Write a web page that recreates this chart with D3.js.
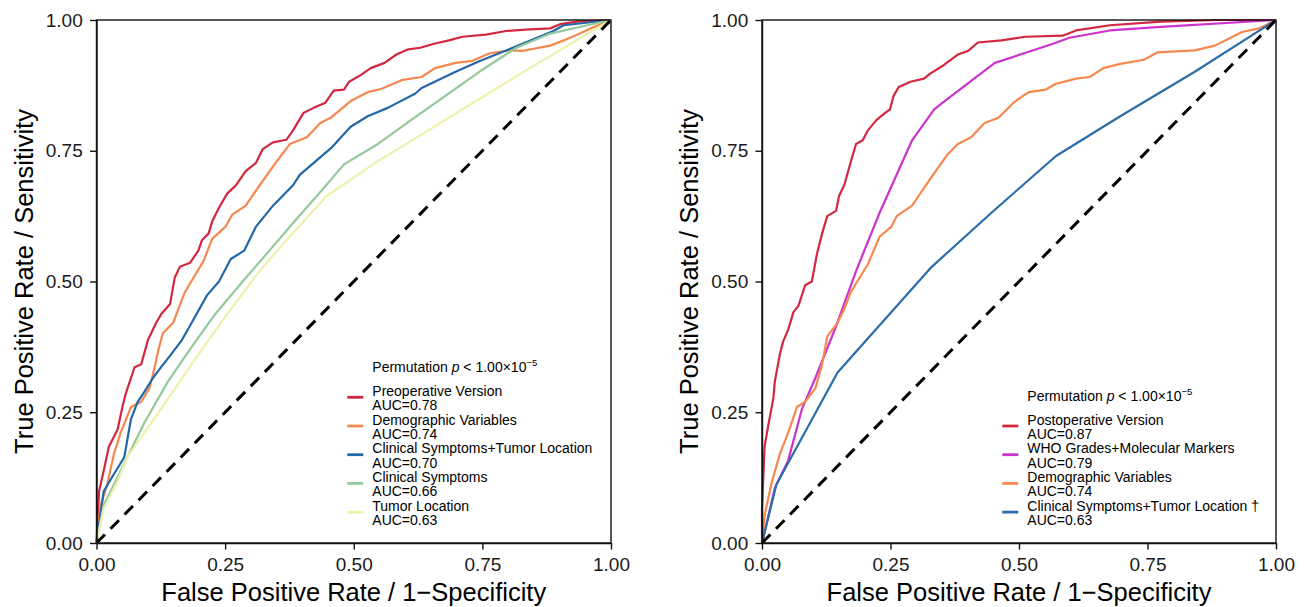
<!DOCTYPE html>
<html>
<head>
<meta charset="utf-8">
<script src="https://cdn.jsdelivr.net/npm/d3@7"></script>
<style>
  body { margin: 0; background: #fff; }
  svg { display: block; font-family: "Liberation Sans", Arial, sans-serif; }
</style>
</head>
<body>
<div id="area"></div>
<script>
// tick values shared by both axes
const tickValues = [0, 0.25, 0.5, 0.75, 1]

// left panel: preoperative models
const leftLabels = ['Preoperative Version', 'Demographic Variables', 'Clinical Symptoms+Tumor Location', 'Clinical Symptoms', 'Tumor Location']
const leftAuc = [0.78, 0.74, 0.70, 0.66, 0.63]

// right panel: postoperative models
const rightLabels = ['Postoperative Version', 'WHO Grades+Molecular Markers', 'Demographic Variables', 'Clinical Symptoms+Tumor Location \u2020']
const rightAuc = [0.87, 0.79, 0.74, 0.63]

// ROC points, [fpr, tpr]
const preoperative = [[0,0],[0.005,0.099],[0.014,0.138],[0.024,0.184],[0.041,0.217],[0.051,0.263],[0.057,0.286],[0.074,0.336],[0.087,0.342],[0.10,0.388],[0.116,0.421],[0.126,0.438],[0.143,0.457],[0.152,0.507],[0.162,0.528],[0.182,0.536],[0.198,0.559],[0.205,0.579],[0.218,0.592],[0.225,0.615],[0.238,0.641],[0.254,0.668],[0.271,0.684],[0.290,0.711],[0.310,0.727],[0.323,0.753],[0.343,0.766],[0.369,0.771],[0.382,0.789],[0.402,0.822],[0.422,0.832],[0.445,0.842],[0.461,0.865],[0.481,0.867],[0.491,0.882],[0.514,0.895],[0.533,0.908],[0.560,0.918],[0.583,0.934],[0.606,0.944],[0.629,0.947],[0.658,0.955],[0.685,0.961],[0.711,0.968],[0.757,0.972],[0.796,0.979],[0.842,0.982],[0.882,0.984],[0.901,0.992],[0.934,0.997],[1,1]]
const demographicPre = [[0,0],[0.008,0.072],[0.021,0.112],[0.034,0.171],[0.047,0.211],[0.067,0.260],[0.087,0.270],[0.103,0.296],[0.113,0.336],[0.120,0.368],[0.129,0.401],[0.149,0.421],[0.159,0.447],[0.172,0.480],[0.192,0.513],[0.208,0.539],[0.225,0.582],[0.251,0.605],[0.264,0.628],[0.290,0.645],[0.317,0.684],[0.346,0.724],[0.376,0.763],[0.409,0.776],[0.435,0.803],[0.455,0.813],[0.494,0.845],[0.527,0.862],[0.553,0.868],[0.593,0.885],[0.632,0.891],[0.658,0.908],[0.698,0.918],[0.731,0.922],[0.763,0.936],[0.803,0.942],[0.829,0.941],[0.855,0.946],[0.882,0.951],[0.908,0.961],[0.934,0.972],[0.961,0.984],[1,1]]
const symptomsLocationPre = [[0,0],[0.014,0.099],[0.034,0.132],[0.054,0.164],[0.067,0.237],[0.080,0.270],[0.093,0.289],[0.110,0.316],[0.120,0.329],[0.146,0.362],[0.166,0.388],[0.185,0.421],[0.215,0.474],[0.238,0.500],[0.261,0.543],[0.287,0.559],[0.310,0.605],[0.343,0.645],[0.382,0.684],[0.395,0.704],[0.458,0.757],[0.494,0.796],[0.527,0.816],[0.566,0.832],[0.619,0.859],[0.632,0.870],[0.698,0.901],[0.744,0.921],[0.809,0.947],[0.888,0.979],[0.908,0.990],[1,1]]
const clinicalSymptoms = [[0,0],[0.014,0.072],[0.034,0.112],[0.060,0.164],[0.093,0.230],[0.139,0.309],[0.185,0.375],[0.231,0.438],[0.284,0.500],[0.336,0.559],[0.382,0.612],[0.435,0.671],[0.481,0.724],[0.547,0.763],[0.612,0.809],[0.678,0.855],[0.744,0.901],[0.816,0.947],[0.882,0.974],[0.941,0.987],[1,1]]
const tumorLocation = [[0,0],[0.014,0.066],[0.041,0.118],[0.060,0.164],[0.120,0.249],[0.185,0.342],[0.251,0.434],[0.317,0.520],[0.369,0.579],[0.448,0.664],[0.547,0.730],[0.645,0.789],[0.744,0.849],[0.842,0.908],[0.921,0.954],[1,1]]

const postoperative = [[0,0],[0,0.066],[0.005,0.184],[0.012,0.224],[0.022,0.276],[0.025,0.309],[0.035,0.362],[0.041,0.385],[0.051,0.408],[0.061,0.441],[0.071,0.454],[0.084,0.493],[0.097,0.500],[0.107,0.553],[0.117,0.592],[0.127,0.625],[0.144,0.635],[0.150,0.664],[0.160,0.684],[0.173,0.730],[0.183,0.763],[0.196,0.770],[0.206,0.789],[0.223,0.809],[0.239,0.822],[0.249,0.829],[0.256,0.855],[0.266,0.872],[0.289,0.882],[0.315,0.888],[0.328,0.898],[0.354,0.914],[0.381,0.934],[0.401,0.941],[0.420,0.957],[0.466,0.961],[0.513,0.968],[0.585,0.970],[0.611,0.980],[0.677,0.990],[0.776,0.997],[0.888,1],[1,1]]
const whoMarkers = [[0,0],[0.025,0.105],[0.051,0.158],[0.078,0.257],[0.104,0.316],[0.144,0.414],[0.183,0.520],[0.229,0.632],[0.292,0.770],[0.335,0.829],[0.361,0.849],[0.453,0.918],[0.565,0.954],[0.598,0.966],[0.677,0.980],[0.776,0.987],[1,1]]
const demographicPost = [[0,0],[0.005,0.053],[0.018,0.112],[0.035,0.171],[0.051,0.211],[0.068,0.260],[0.084,0.270],[0.104,0.296],[0.117,0.342],[0.127,0.395],[0.147,0.421],[0.160,0.447],[0.173,0.480],[0.206,0.533],[0.229,0.586],[0.252,0.605],[0.262,0.625],[0.292,0.645],[0.328,0.697],[0.361,0.743],[0.381,0.763],[0.407,0.776],[0.433,0.803],[0.460,0.813],[0.493,0.845],[0.519,0.862],[0.552,0.867],[0.572,0.878],[0.611,0.888],[0.638,0.891],[0.664,0.908],[0.697,0.916],[0.743,0.924],[0.769,0.938],[0.842,0.942],[0.881,0.951],[0.908,0.964],[0.934,0.977],[0.967,0.984],[1,1]]
const symptomsLocationPost = [[0,0],[0.028,0.112],[0.147,0.326],[0.328,0.526],[0.447,0.632],[0.572,0.740],[0.697,0.816],[0.842,0.901],[1,1]]

const leftCurves = [preoperative, demographicPre, symptomsLocationPre, clinicalSymptoms, tumorLocation]
const rightCurves = [postoperative, whoMarkers, demographicPost, symptomsLocationPost]

// styles
const leftColors = ['#D2283F', '#F5884F', '#2467A8', '#93C99B', '#EEF0AE']
const rightColors = ['#D2283F', '#CC33CC', '#F5884F', '#2A6DA8']
const ink = '#111'

const width = 1309
const height = 607
const plotTop = 20
const plotBottom = 543

const svg = d3.select('#area').append('svg')
  .attr('width', width)
  .attr('height', height)

function drawPanel(x0, x1, curves, labels, aucs, colors, legend) {
  const x = d3.scaleLinear().domain([0, 1]).range([x0, x1])
  const y = d3.scaleLinear().domain([0, 1]).range([plotBottom, plotTop])
  const g = svg.append('g')

  const line = d3.line()
    .x(d => x(d[0]))
    .y(d => y(d[1]))

  // roc curves
  curves.forEach(function(c, i) {
    g.append('path')
      .datum(c)
      .attr('d', line)
      .attr('fill', 'none')
      .attr('stroke', colors[i])
      .attr('stroke-width', 2.2)
      .attr('stroke-linejoin', 'round')
  })

  // chance line
  g.append('path')
    .datum([[0, 0], [1, 1]])
    .attr('d', line)
    .attr('stroke', '#000')
    .attr('stroke-width', 3)
    .attr('stroke-dasharray', '12,8')

  // panel border
  g.append('rect')
    .attr('x', x0).attr('y', plotTop)
    .attr('width', x1 - x0).attr('height', plotBottom - plotTop)
    .attr('fill', 'none')
    .attr('stroke', ink)
    .attr('stroke-width', 1.4)

  const fmt = d3.format('.2f')

  const xAxis = g.append('g')
    .attr('transform', 'translate(0,' + plotBottom + ')')
    .call(d3.axisBottom(x).tickValues(tickValues).tickFormat(fmt).tickSize(6.5).tickSizeOuter(0))
  const yAxis = g.append('g')
    .attr('transform', 'translate(' + x0 + ',0)')
    .call(d3.axisLeft(y).tickValues(tickValues).tickFormat(fmt).tickSize(6.5).tickPadding(7.3).tickSizeOuter(0))

  ;[xAxis, yAxis].forEach(function(a) {
    a.attr('font-family', null).attr('font-size', null)
    a.select('.domain').attr('stroke', ink).attr('stroke-width', 1.4)
    a.selectAll('.tick line').attr('stroke', ink).attr('stroke-width', 1.4)
    a.selectAll('.tick text').attr('fill', '#1a1a1a').style('font-size', '19px')
  })
  xAxis.selectAll('.tick text').attr('y', 15)

  // axis titles
  g.append('text')
    .attr('x', (x0 + x1) / 2)
    .attr('y', 601)
    .attr('text-anchor', 'middle')
    .style('font-size', '25.5px')
    .text('False Positive Rate / 1\u2212Specificity')

  g.append('text')
    .attr('transform', 'translate(' + (x0 - 64) + ',' + ((plotTop + plotBottom) / 2) + ') rotate(-90)')
    .attr('text-anchor', 'middle')
    .style('font-size', '25.5px')
    .text('True Positive Rate / Sensitivity')

  // legend
  const lg = g.append('g').style('font-size', '14px')
  const title = lg.append('text')
    .attr('x', legend.x)
    .attr('y', legend.titleY)
  title.append('tspan').text('Permutation ')
  title.append('tspan').style('font-style', 'italic').text('p')
  title.append('tspan').text(' < 1.00\u00d710')
  title.append('tspan').attr('dy', -6.5).style('font-size', '9.5px').text('\u22125')

  labels.forEach(function(lab, i) {
    const ky = legend.keyY + i * 28.7
    lg.append('line')
      .attr('x1', legend.x - 25).attr('x2', legend.x - 9)
      .attr('y1', ky).attr('y2', ky)
      .attr('stroke', colors[i])
      .attr('stroke-width', 2.8)
    lg.append('text')
      .attr('x', legend.x)
      .attr('y', ky - 1.5)
      .text(lab)
    lg.append('text')
      .attr('x', legend.x)
      .attr('y', ky + 12.8)
      .text('AUC=' + fmt(aucs[i]))
  })
}

drawPanel(96.5, 611, leftCurves, leftLabels, leftAuc, leftColors, {x: 372.3, titleY: 372, keyY: 397.3})
drawPanel(762, 1276, rightCurves, rightLabels, rightAuc, rightColors, {x: 1027.3, titleY: 401, keyY: 426})
</script>
</body>
</html>
